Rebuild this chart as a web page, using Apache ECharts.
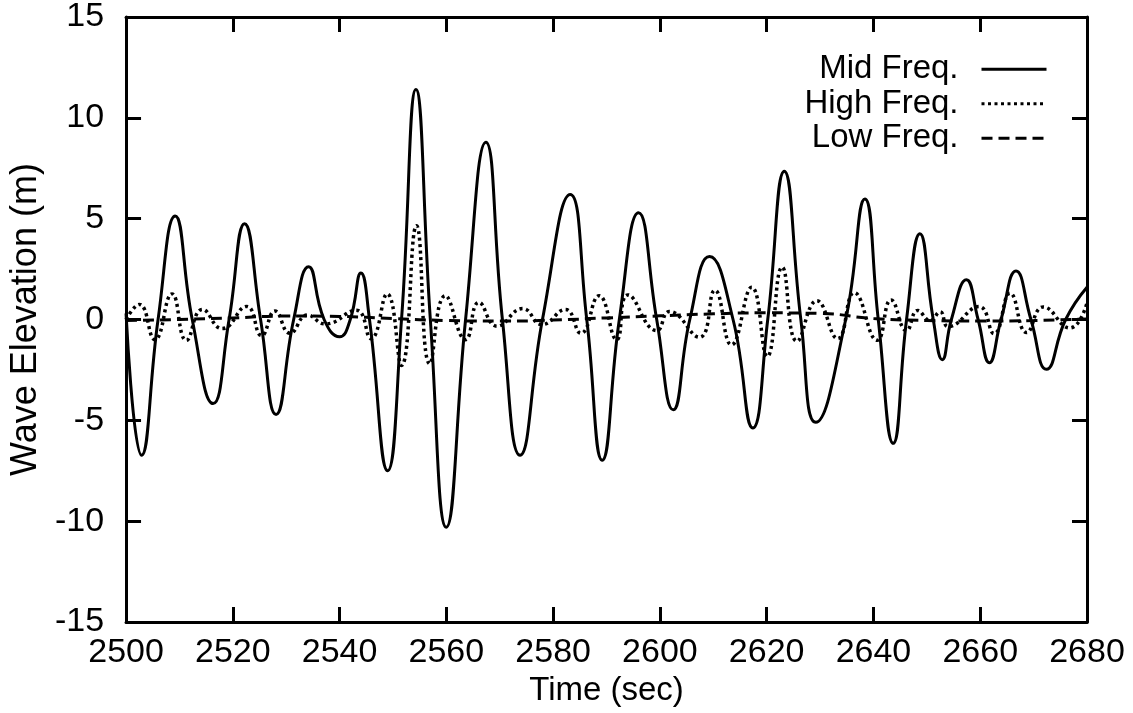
<!DOCTYPE html>
<html>
<head>
<meta charset="utf-8">
<script src="https://cdn.jsdelivr.net/npm/echarts@6/dist/echarts.min.js"></script>
<style>
html,body{margin:0;padding:0;background:#fff;}
#chart{width:1133px;height:713px;}
</style>
</head>
<body>
<div id="chart"></div>
<script>
// X tick labels (time, sec) and Y tick labels (m)
const xTicks = [2500, 2520, 2540, 2560, 2580, 2600, 2620, 2640, 2660, 2680];
const yTicks = [-15, -10, -5, 0, 5, 10, 15];

// Mid Freq. (solid): extrema and zero crossings
const midT = [2500, 2502.9, 2506.0, 2509.2, 2512.4, 2516.3, 2519.3, 2522.2, 2525.2, 2528.1,
  2531.4, 2534.2, 2537.1, 2540.0, 2542.0, 2544.0, 2545.6, 2549.0, 2551.6, 2554.3,
  2557.0, 2560.0, 2563.6, 2567.4, 2570.5, 2573.8, 2578.0, 2583.2, 2586.3, 2589.2,
  2592.4, 2596.0, 2599.4, 2602.5, 2605.6, 2609.3, 2613.7, 2617.4, 2620.2, 2623.3,
  2626.4, 2629.2, 2634.8, 2638.4, 2640.9, 2643.7, 2646.2, 2648.7, 2651.2, 2652.9,
  2654.6, 2657.4, 2659.6, 2661.7, 2663.9, 2666.7, 2669.5, 2672.4, 2676.0, 2680];
const midV = [0.3, -6.73, 0, 5.13, 0, -4.17, 0, 4.75, 0, -4.71,
  0, 2.62, 0, -0.85, 0, 2.3, 0, -7.5, 0, 11.4,
  0, -10.3, 0, 8.79, 0, -6.73, 0, 6.2, 0, -6.98,
  0, 5.29, 0, -4.48, 0, 3.12, 0, -5.38, 0, 7.35,
  0, -5.1, 0, 5.97, 0, -6.14, 0, 4.25, 0, -1.99,
  0, 1.97, 0, -2.14, 0, 2.41, 0, -2.47, 0, 1.6];

// High Freq. (dotted)
const highT = [2500, 2502.5, 2505.4, 2508.6, 2511.3, 2514.3, 2518.0, 2522.6, 2525.4, 2527.9,
  2530.7, 2534.0, 2537.3, 2543.1, 2545.9, 2548.9, 2551.6, 2554.4, 2556.9, 2559.8,
  2563.6, 2566.1, 2569.5, 2574.3, 2577.9, 2582.3, 2585.2, 2588.6, 2591.9, 2594.0,
  2599.4, 2601.8, 2607.4, 2610.3, 2613.4, 2617.2, 2620.1, 2622.9, 2625.7, 2629.4,
  2633.3, 2636.4, 2640.7, 2643.3, 2646.2, 2648.3, 2650.6, 2652.5, 2654.0, 2659.8,
  2662.6, 2665.6, 2668.7, 2671.8, 2676.8, 2680];
const highV = [0, 0.75, -1.0, 1.27, -1.03, 0.5, -0.45, 0.65, -0.8, 0.42,
  -0.68, 0.22, -0.22, 0.46, -0.95, 1.27, -2.28, 4.65, -2.2, 1.18,
  -1.0, 0.85, -0.33, 0.54, -0.25, 0.5, -0.68, 1.18, -1.0, 1.22,
  -0.55, 0.4, -0.88, 1.45, -1.26, 1.6, -1.84, 2.6, -1.08, 0.93,
  -0.95, 1.33, -1.03, 0.97, -0.55, 0.45, -0.05, 0.38, -0.35, 0.64,
  -0.7, 1.3, -0.65, 0.62, -0.42, 0.82];

// Low Freq. (dashed)
const lowT = [2500, 2510, 2520, 2530, 2540, 2550, 2560, 2570, 2580, 2590,
  2600, 2610, 2620, 2630, 2640, 2650, 2660, 2670, 2680];
const lowV = [-0.05, 0.0, 0.08, 0.17, 0.15, 0.05, -0.05, -0.08, -0.03, 0.08,
  0.18, 0.28, 0.33, 0.3, 0.05, -0.05, -0.08, -0.05, 0.03];

const zip = (t, v) => t.map((x, i) => [x, v[i]]);

const FONT = "'Liberation Sans', Arial, Helvetica, sans-serif";
const axisLine = {show: true, onZero: false, lineStyle: {color: '#000', width: 3}};
const axisTick = {show: true, inside: true, length: 15, lineStyle: {color: '#000', width: 3}};
const plain = v => String(v);

const chart = echarts.init(document.getElementById('chart'), null, {renderer: 'canvas'});
chart.setOption({
  animation: false,
  backgroundColor: '#fff',
  textStyle: {fontFamily: FONT, color: '#000'},
  grid: {left: 121, right: 46, top: 17, bottom: 91},
  legend: {
    data: ['Mid Freq.', 'High Freq.', 'Low Freq.'],
    orient: 'vertical', align: 'right', right: 80, top: 47,
    itemWidth: 65, itemHeight: 14, itemGap: 0,
    textStyle: {fontFamily: FONT, fontSize: 33, color: '#000', lineHeight: 34.5, padding: [0, 18, 0, 0]},
    lineStyle: {width: 3},
    itemStyle: {opacity: 0}
  },
  xAxis: [{
    type: 'value', min: xTicks[0], max: xTicks[xTicks.length - 1], interval: 20,
    name: 'Time (sec)', nameLocation: 'middle', nameGap: 50,
    nameTextStyle: {fontFamily: FONT, fontSize: 33, color: '#000'},
    axisLine, axisTick,
    axisLabel: {fontFamily: FONT, fontSize: 34, color: '#000', margin: 14, formatter: plain},
    splitLine: {show: false}
  }, {
    type: 'value', position: 'top', min: xTicks[0], max: xTicks[xTicks.length - 1], interval: 20,
    axisLine, axisTick, axisLabel: {show: false}, splitLine: {show: false}
  }],
  yAxis: [{
    type: 'value', min: yTicks[0], max: yTicks[yTicks.length - 1], interval: 5,
    name: 'Wave Elevation (m)', nameLocation: 'middle', nameGap: 78,
    nameTextStyle: {fontFamily: FONT, fontSize: 36, color: '#000'},
    axisLine, axisTick,
    axisLabel: {fontFamily: FONT, fontSize: 34, color: '#000', margin: 22, formatter: plain},
    splitLine: {show: false}
  }, {
    type: 'value', position: 'right', min: yTicks[0], max: yTicks[yTicks.length - 1], interval: 5,
    axisLine, axisTick, axisLabel: {show: false}, splitLine: {show: false}
  }],
  series: [{
    name: 'Low Freq.', type: 'line', data: zip(lowT, lowV), smooth: 0.5,
    symbol: 'none', lineStyle: {color: '#000', width: 3, type: [11, 6]}, itemStyle: {color: '#000'}
  }, {
    name: 'High Freq.', type: 'line', data: zip(highT, highV), smooth: 0.5,
    symbol: 'none', lineStyle: {color: '#000', width: 3.5, type: [3, 3.5]}, itemStyle: {color: '#000'}
  }, {
    name: 'Mid Freq.', type: 'line', data: zip(midT, midV), smooth: 0.5,
    symbol: 'none', lineStyle: {color: '#000', width: 3, type: 'solid'}, itemStyle: {color: '#000'}
  }]
});
</script>
</body>
</html>
